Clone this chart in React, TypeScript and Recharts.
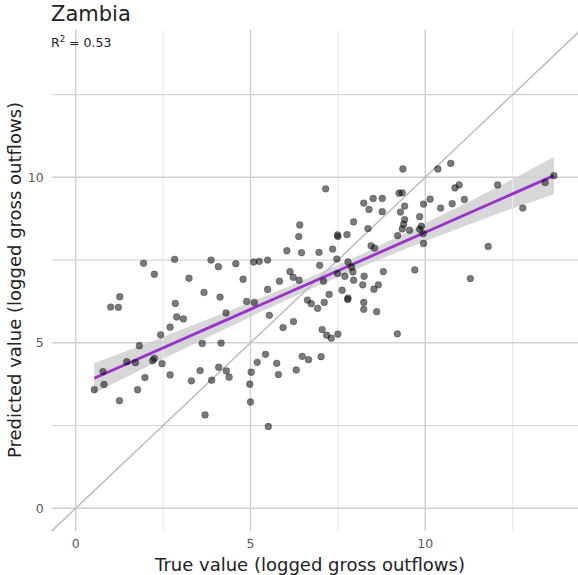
import React from "react";
import {
  ComposedChart,
  Scatter,
  Line,
  Area,
  XAxis,
  YAxis,
  ReferenceLine,
} from "recharts";

// True values (x) and predicted values (y)
const trueVals = [
  1.94, 2.83, 3.87, 4.08, 4.58, 5.09, 5.25, 2.25, 3.24, 4.79, 1.26, 1.0, 1.22, 2.85, 3.67, 4.13, 4.89, 5.11, 4.3, 2.89,
  3.08, 2.7, 2.43, 1.82, 3.62, 4.16, 1.46, 1.71, 2.2, 2.25, 2.47, 0.78, 0.81, 0.53, 1.98, 1.77, 1.25, 2.7, 3.56, 3.31,
  3.89, 4.09, 4.31, 4.39, 5.19, 5.02, 4.98, 5.0, 3.7, 5.54, 5.93, 6.23, 6.63, 6.74, 6.92, 7.11, 7.78, 8.24, 8.24, 8.61,
  7.05, 7.18, 7.31, 7.5, 9.2, 5.43, 5.75, 5.8, 6.48, 6.66, 7.02, 6.31, 5.51, 9.36, 7.15, 9.25, 9.34, 8.24, 8.51, 8.77,
  8.39, 8.77, 9.29, 9.41, 9.95, 10.14, 9.84, 7.95, 8.36, 9.41, 9.38, 9.34, 9.55, 9.89, 9.84, 9.21, 9.95, 6.41, 6.38, 7.49,
  7.5, 7.76, 8.45, 8.55, 6.04, 6.46, 6.96, 7.35, 7.47, 7.79, 6.98, 5.49, 7.89, 7.93, 7.49, 7.7, 6.13, 6.22, 6.39, 7.09,
  5.83, 8.25, 8.8, 7.95, 8.21, 8.66, 8.53, 9.7, 5.49, 7.62, 7.25, 7.79, 10.36, 10.73, 10.85, 10.97, 12.07, 13.68, 13.43, 12.79,
  11.8, 11.29, 10.44, 10.77, 11.12, 9.94,
];
const predVals = [
  7.4, 7.52, 7.5, 7.3, 7.39, 7.44, 7.46, 7.07, 6.95, 6.92, 6.39, 6.08, 6.07, 6.19, 6.52, 6.38, 6.25, 6.22, 5.9, 5.78,
  5.72, 5.47, 5.24, 4.91, 4.98, 4.99, 4.43, 4.4, 4.46, 4.53, 4.37, 4.13, 3.74, 3.58, 3.95, 3.58, 3.25, 4.03, 4.16, 3.85,
  3.87, 4.26, 4.15, 3.96, 4.41, 4.11, 3.75, 3.21, 2.82, 5.83, 5.46, 5.64, 6.29, 6.18, 6.04, 6.22, 6.31, 6.22, 6.01, 5.94,
  5.4, 5.23, 5.14, 5.26, 5.27, 4.65, 4.38, 4.04, 4.59, 4.49, 4.58, 4.18, 2.47, 10.25, 9.65, 9.52, 9.53, 9.22, 9.36, 9.36,
  9.03, 8.96, 8.95, 9.13, 9.19, 9.34, 8.81, 8.65, 8.45, 8.72, 8.58, 8.44, 8.4, 8.52, 8.43, 8.24, 8.0, 8.56, 8.21, 8.26,
  8.21, 8.27, 7.93, 7.86, 7.78, 7.72, 7.73, 7.83, 7.53, 7.44, 7.34, 7.5, 7.29, 7.14, 7.09, 7.01, 7.15, 6.98, 6.89, 6.86,
  6.86, 7.01, 7.15, 6.89, 6.75, 6.75, 6.62, 7.2, 6.61, 6.59, 6.46, 6.35, 10.25, 10.42, 9.68, 9.77, 9.77, 10.05, 9.84, 9.07,
  7.91, 6.94, 9.07, 9.2, 9.33, 8.3,
];

// Fitted regression line (end points) and its confidence band
const fitX = [0.53, 13.68];
const fitY = [3.93, 10.05];
const bandX = [0.53, 2, 4, 6, 8, 10, 12, 13.68];
const bandLo = [3.48, 4.25, 5.28, 6.28, 7.21, 8.07, 8.87, 9.49];
const bandHi = [4.38, 4.97, 5.8, 6.66, 7.59, 8.61, 9.67, 10.61];

// Axis ticks / gridlines
const majorTicks = [0, 5, 10];
const minorTicks = [2.5, 7.5, 12.5];
const domainMin = -0.69;
const domainMax = 14.45;

const points = trueVals.map((x, i) => ({ x, y: predVals[i] }));
const fitData = fitX.map((x, i) => ({ x, y: fitY[i] }));
const bandData = bandX.map((x, i) => ({ x, range: [bandLo[i], bandHi[i]] }));

const FONT = "'DejaVu Sans', 'Open Sans', sans-serif";

const Dot = (props: any) => {
  const { cx, cy } = props;
  if (cx == null || cy == null) return null;
  return (
    <circle
      cx={cx}
      cy={cy}
      r={3.4}
      fill="#000"
      fillOpacity={0.52}
      stroke="#000"
      strokeOpacity={0.3}
      strokeWidth={0.8}
    />
  );
};

export default function App() {
  const tickStyle = { fill: "#5a5a5a", fontSize: 12.5, fontFamily: FONT };
  return (
    <div
      style={{
        position: "absolute",
        left: 0,
        top: 0,
        width: 578,
        height: 575,
        overflow: "hidden",
        background: "#fff",
      }}
    >
      <ComposedChart
        width={590}
        height={575}
        margin={{ top: 30, right: 9.2, left: 11.6, bottom: 13.9 }}
      >
        <XAxis
          type="number"
          dataKey="x"
          domain={[domainMin, domainMax]}
          ticks={majorTicks}
          allowDataOverflow
          axisLine={false}
          tickLine={false}
          tickSize={0}
          tickMargin={8}
          height={30}
          tick={tickStyle}
        />
        <YAxis
          type="number"
          dataKey="y"
          domain={[domainMin, domainMax]}
          ticks={majorTicks}
          allowDataOverflow
          axisLine={false}
          tickLine={false}
          tickSize={0}
          tickMargin={8}
          width={40}
          tick={tickStyle}
        />
        {minorTicks.map((t) => (
          <ReferenceLine key={"vm" + t} x={t} stroke="#ebebeb" strokeWidth={1.2} />
        ))}
        {majorTicks.map((t) => (
          <ReferenceLine key={"vM" + t} x={t} stroke="#cfcfcf" strokeWidth={1.4} />
        ))}
        {minorTicks.map((t) => (
          <ReferenceLine key={"hm" + t} y={t} stroke="#d4d4d4" strokeWidth={1.2} />
        ))}
        {majorTicks.map((t) => (
          <ReferenceLine key={"hM" + t} y={t} stroke="#cfcfcf" strokeWidth={1.4} />
        ))}
        <ReferenceLine
          segment={[
            { x: domainMin, y: domainMin },
            { x: domainMax, y: domainMax },
          ]}
          stroke="#bdbdbd"
          strokeWidth={1.5}
        />
        <Scatter data={points} shape={<Dot />} isAnimationActive={false} />
        <Area
          data={bandData}
          dataKey="range"
          type="monotone"
          stroke="none"
          fill="#bdbdbd"
          fillOpacity={0.6}
          isAnimationActive={false}
        />
        <Line
          data={fitData}
          dataKey="y"
          type="linear"
          stroke="#9932CC"
          strokeWidth={2.8}
          dot={false}
          isAnimationActive={false}
        />
      </ComposedChart>
      <svg
        width={578}
        height={575}
        style={{ position: "absolute", left: 0, top: 0, pointerEvents: "none" }}
      >
        <text x={51} y={21} fontSize={21} fill="#222" fontFamily={FONT}>
          Zambia
        </text>
        <text x={51} y={47} fontSize={12.5} fill="#222" fontFamily={FONT}>
          R
          <tspan dy={-5} fontSize={8.5}>
            2
          </tspan>
          <tspan dy={5}> = 0.53</tspan>
        </text>
        <text
          x={310}
          y={571}
          fontSize={18}
          textAnchor="middle"
          fill="#222"
          fontFamily={FONT}
        >
          True value (logged gross outflows)
        </text>
        <text
          x={0}
          y={0}
          fontSize={18}
          textAnchor="middle"
          fill="#222"
          fontFamily={FONT}
          transform="translate(21 280) rotate(-90)"
        >
          Predicted value (logged gross outflows)
        </text>
      </svg>
    </div>
  );
}
